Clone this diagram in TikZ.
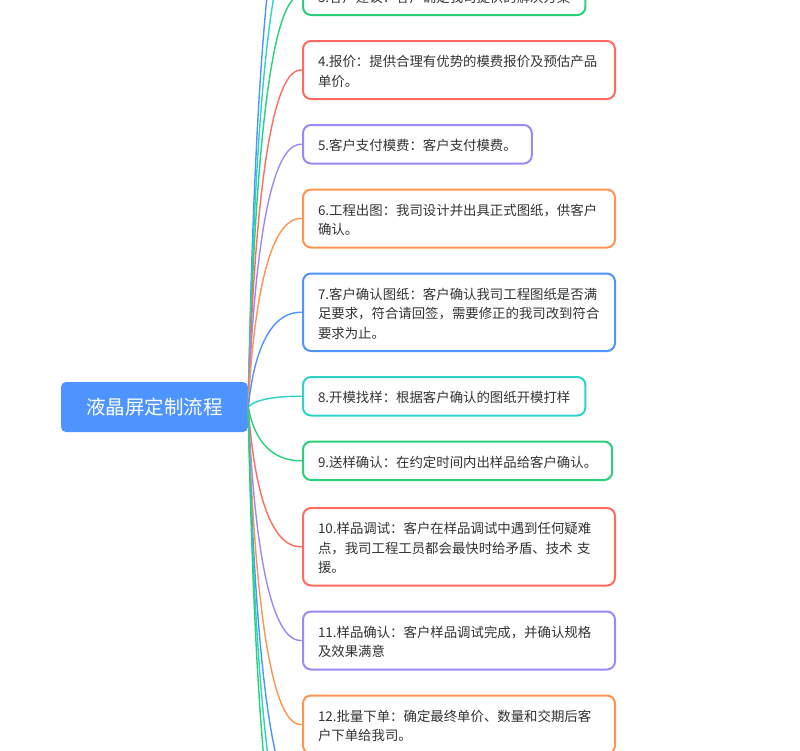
\documentclass[tikz,border=0pt]{standalone}
\usepackage{fontspec}
\setmainfont{Noto Sans CJK SC}
\usepackage{tikz}
\usetikzlibrary{positioning,calc}
\definecolor{lcdblue}{HTML}{4E94FF}
\definecolor{lcdcyan}{HTML}{2DD3C7}
\definecolor{lcdgreen}{HTML}{2AD07A}
\definecolor{lcdred}{HTML}{FF6B60}
\definecolor{lcdpurple}{HTML}{9D88F6}
\definecolor{lcdorange}{HTML}{FF9450}
\definecolor{txtgray}{HTML}{333333}
\newcommand{\cardstrut}{\rule[-3.4pt]{0pt}{19.5pt}}

\begin{document}
\begin{tikzpicture}[x=1pt, y=-1pt,
  font=\fontsize{13.4}{19.5}\selectfont,
  root/.style={fill=lcdblue, rounded corners=5pt, text=white, inner sep=0pt,
               minimum width=187pt, minimum height=50pt,
               font=\fontsize{19.5}{24}\selectfont},
  card/.style={draw=#1, line width=2pt, rounded corners=8pt, fill=white,
               text=txtgray, align=left, inner xsep=15pt, inner ysep=9.5pt,
               execute at begin node=\cardstrut, execute at end node=\cardstrut},
  wide/.style={text width=282pt},
  stacked/.style={below=24pt of #1.south west, anchor=north west},
  link/.style={draw=#1, line width=1.4pt}]
\useasboundingbox (0,0) rectangle (800,750);
\clip (0,0) rectangle (800,750);
\node[root] (root) at (154.5,407) {液晶屏定制流程};
\node[card=lcdgreen, anchor=south west] (b3) at (302,16)
  {3.客户建议：客户确定我司提供的解决方案};
\node[card=lcdred, wide, stacked=b3] (b4)
  {4.报价：提供合理有优势的模费报价及预估产品\\单价。};
\node[card=lcdpurple, stacked=b4] (b5)
  {5.客户支付模费：客户支付模费。};
\node[card=lcdorange, wide, stacked=b5] (b6)
  {6.工程出图：我司设计并出具正式图纸，供客户\\确认。};
\node[card=lcdblue, wide, stacked=b6] (b7)
  {7.客户确认图纸：客户确认我司工程图纸是否满\\足要求，符合请回签，需要修正的我司改到符合\\要求为止。};
\node[card=lcdcyan, stacked=b7] (b8)
  {8.开模找样：根据客户确认的图纸开模打样};
\node[card=lcdgreen, stacked=b8] (b9)
  {9.送样确认：在约定时间内出样品给客户确认。};
\node[card=lcdred, wide, stacked=b9, yshift=-2pt] (b10)
  {10.样品调试：客户在样品调试中遇到任何疑难\\点，我司工程工员都会最快时给矛盾、技术 支\\援。};
\node[card=lcdpurple, wide, stacked=b10] (b11)
  {11.样品确认：客户样品调试完成，并确认规格\\及效果满意};
\node[card=lcdorange, wide, stacked=b11] (b12)
  {12.批量下单：确定最终单价、数量和交期后客\\户下单给我司。};
\coordinate (e1) at (302,-136);
\coordinate (e2) at (302,-70);
\coordinate (e13) at (302,800);
\coordinate (e14) at (302,858);
\coordinate (e15) at (302,915);
\draw[link=lcdblue] (root.east) .. controls ($(root.east |- e1)+(10,0)$) and ($(e1)+(-10,0)$) .. (e1);
\draw[link=lcdcyan] (root.east) .. controls ($(root.east |- e2)+(10,0)$) and ($(e2)+(-10,0)$) .. (e2);
\draw[link=lcdgreen] (root.east) .. controls ($(root.east |- b3.west)+(10,0)$) and ($(b3.west)+(-10,0)$) .. (b3.west);
\draw[link=lcdred] (root.east) .. controls ($(root.east |- b4.west)+(10,0)$) and ($(b4.west)+(-10,0)$) .. (b4.west);
\draw[link=lcdpurple] (root.east) .. controls ($(root.east |- b5.west)+(10,0)$) and ($(b5.west)+(-10,0)$) .. (b5.west);
\draw[link=lcdorange] (root.east) .. controls ($(root.east |- b6.west)+(10,0)$) and ($(b6.west)+(-10,0)$) .. (b6.west);
\draw[link=lcdblue] (root.east) .. controls ($(root.east |- b7.west)+(10,0)$) and ($(b7.west)+(-10,0)$) .. (b7.west);
\draw[link=lcdcyan] (root.east) .. controls ($(root.east |- b8.west)+(10,0)$) and ($(b8.west)+(-10,0)$) .. (b8.west);
\draw[link=lcdgreen] (root.east) .. controls ($(root.east |- b9.west)+(10,0)$) and ($(b9.west)+(-10,0)$) .. (b9.west);
\draw[link=lcdred] (root.east) .. controls ($(root.east |- b10.west)+(10,0)$) and ($(b10.west)+(-10,0)$) .. (b10.west);
\draw[link=lcdpurple] (root.east) .. controls ($(root.east |- b11.west)+(10,0)$) and ($(b11.west)+(-10,0)$) .. (b11.west);
\draw[link=lcdorange] (root.east) .. controls ($(root.east |- b12.west)+(10,0)$) and ($(b12.west)+(-10,0)$) .. (b12.west);
\draw[link=lcdblue] (root.east) .. controls ($(root.east |- e13)+(10,0)$) and ($(e13)+(-10,0)$) .. (e13);
\draw[link=lcdcyan] (root.east) .. controls ($(root.east |- e14)+(10,0)$) and ($(e14)+(-10,0)$) .. (e14);
\draw[link=lcdgreen] (root.east) .. controls ($(root.east |- e15)+(10,0)$) and ($(e15)+(-10,0)$) .. (e15);
\end{tikzpicture}
\end{document}
